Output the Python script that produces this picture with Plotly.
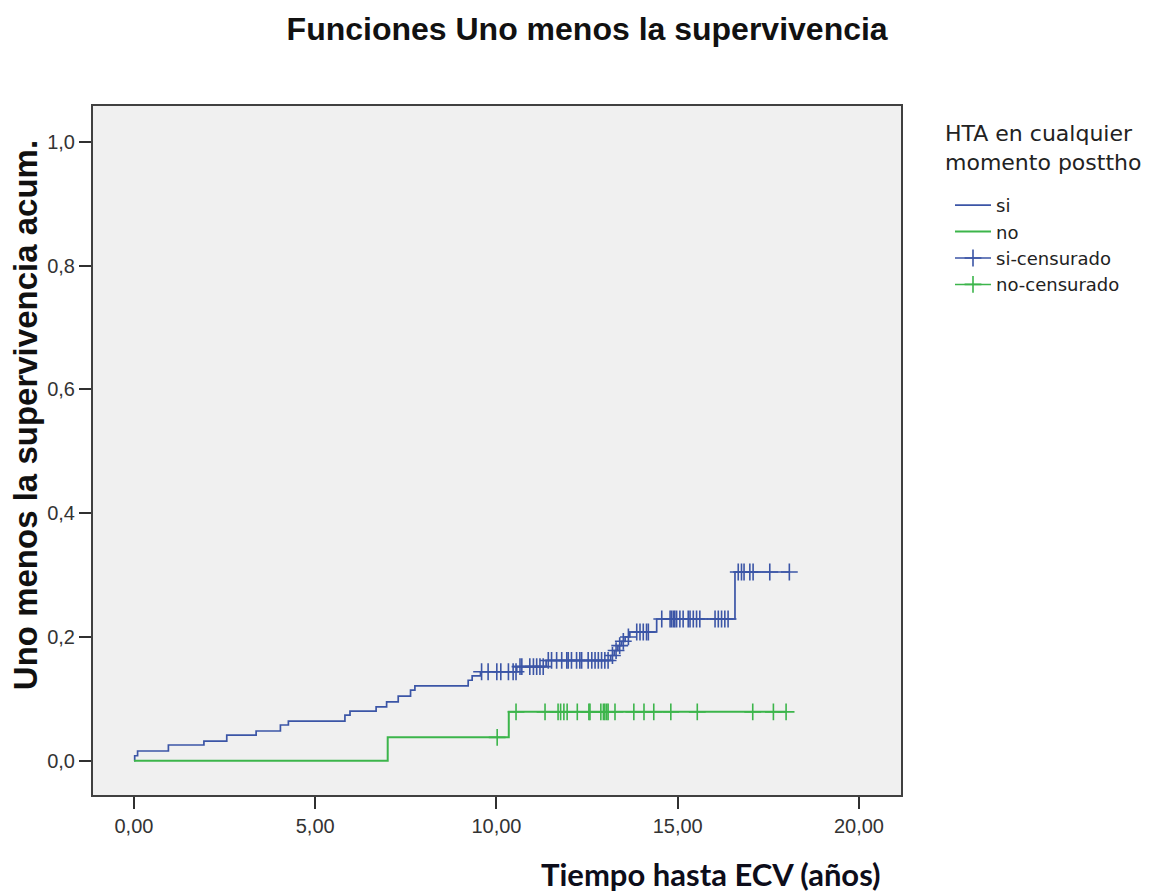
import numpy as np
import plotly.graph_objects as go

# ---- data ----
si_times = [0.0, 0.02, 0.10, 0.95, 1.93, 2.56, 3.37, 4.04, 4.26, 5.82, 5.96, 6.68, 6.97,
            7.29, 7.63, 7.75, 9.22, 9.33, 9.56, 10.56, 11.37, 13.15, 13.25, 13.35, 13.45,
            13.55, 13.68, 14.42, 16.58, 18.08]
si_values = [0.0, 0.008, 0.0157, 0.0254, 0.0318, 0.0415, 0.048, 0.0577, 0.064, 0.0738, 0.0803,
             0.087, 0.095, 0.1045, 0.114, 0.121, 0.130, 0.137, 0.1438, 0.152, 0.162, 0.170,
             0.178, 0.186, 0.193, 0.200, 0.208, 0.229, 0.305, 0.305]

no_times = [0.0, 7.0, 10.34, 18.0]
no_values = [0.0, 0.0378, 0.079, 0.079]

si_censored = [9.59, 9.77, 10.01, 10.12, 10.33, 10.46, 10.54,
               10.65, 10.70, 10.92, 11.02, 11.11, 11.20, 11.29,
               11.43, 11.52, 11.66, 11.80, 11.94, 11.98, 12.07, 12.21, 12.30, 12.35, 12.53,
               12.63, 12.72, 12.81, 12.90, 12.99, 13.08,
               13.20, 13.30, 13.40, 13.50,
               13.64, 13.87, 13.96, 14.05, 14.14, 14.19,
               14.56, 14.79, 14.83, 14.88, 14.92, 14.97, 15.06, 15.15, 15.29, 15.34, 15.43,
               15.52, 15.61, 16.03, 16.12, 16.21, 16.30, 16.39,
               16.67, 16.76, 16.83, 16.99, 17.08, 17.54, 18.08]
no_censored = [10.02, 10.54, 11.34, 11.70, 11.77, 11.86, 11.95, 12.23, 12.55, 12.58, 12.88,
               12.95, 12.99, 13.04, 13.08, 13.27, 13.79, 14.07, 14.34, 14.81, 15.54, 17.07,
               17.64, 17.99]

x_ticks = [0, 5, 10, 15, 20]
y_ticks = [0.0, 0.2, 0.4, 0.6, 0.8, 1.0]

BLUE = "#3b55a6"
GREEN = "#3cb54b"
FONT = "Liberation Sans"


def step_value(times, values, t):
    idx = np.searchsorted(np.array(times), np.array(t), side="right") - 1
    return list(np.array(values)[idx])


def with_gaps(xs, ys):
    # separate each censor mark so no connecting line is drawn between them
    gx, gy = [], []
    for a, b in zip(xs, ys):
        gx += [a, None]
        gy += [b, None]
    return gx, gy


fig = go.Figure()
fig.add_trace(go.Scatter(x=si_times, y=si_values, mode="lines", line_shape="hv",
                         line=dict(color=BLUE, width=1.7), name="si"))
fig.add_trace(go.Scatter(x=no_times, y=no_values, mode="lines", line_shape="hv",
                         line=dict(color=GREEN, width=2), name="no"))
cx, cy = with_gaps(si_censored, step_value(si_times, si_values, si_censored))
fig.add_trace(go.Scatter(x=cx, y=cy, mode="lines+markers", connectgaps=False,
                         name="si-censurado", line=dict(color=BLUE, width=1.5),
                         marker=dict(symbol="cross-thin", size=12,
                                     line=dict(color=BLUE, width=1.6))))
cx, cy = with_gaps(no_censored, step_value(no_times, no_values, no_censored))
fig.add_trace(go.Scatter(x=cx, y=cy, mode="lines+markers", connectgaps=False,
                         name="no-censurado", line=dict(color=GREEN, width=1.5),
                         marker=dict(symbol="cross-thin", size=12,
                                     line=dict(color=GREEN, width=1.6))))

axis_common = dict(showgrid=False, zeroline=False, showline=True, mirror=True,
                   linecolor="#404040", linewidth=2, ticks="outside", ticklen=12,
                   tickwidth=2, tickcolor="#303030",
                   tickfont=dict(family=FONT, size=20, color="#333333"))

fig.update_layout(
    width=1149, height=893,
    margin=dict(l=93, r=248, t=106, b=98, autoexpand=False),
    paper_bgcolor="white", plot_bgcolor="#f0f0f0",
    separators=",.",
    title=dict(text="<b>Funciones Uno menos la supervivencia</b>", xref="container",
               x=0.511, xanchor="center", yref="container", y=0.968, yanchor="middle",
               font=dict(family=FONT, size=32, color="#111111")),
    xaxis=dict(range=[-1.13, 21.16], tickvals=x_ticks, tickformat=".2f", **axis_common),
    yaxis=dict(range=[-0.0554, 1.058], tickvals=y_ticks, tickformat=".1f", **axis_common),
    legend=dict(x=(950 - 93) / 808, xanchor="left", y=(795 - 187) / 689, yanchor="top",
                bgcolor="rgba(0,0,0,0)", itemwidth=36,
                font=dict(family="DejaVu Sans", size=18, color="#222222")),
    annotations=[
        dict(text="HTA en cualquier<br>momento posttho", align="left",
             xref="paper", x=(943 - 93) / 808, xanchor="left",
             yref="paper", y=(795 - 119) / 689, yanchor="top", showarrow=False,
             font=dict(family="DejaVu Sans", size=22, color="#222222")),
        dict(text="<b>Uno menos la supervivencia acum.</b>", textangle=-90,
             xref="paper", x=-0.084, xanchor="center", yref="paper", y=0.5515,
             yanchor="middle", showarrow=False,
             font=dict(family=FONT, size=33, color="#111111")),
        dict(text="<b>Tiempo hasta ECV (años)</b>", xref="paper", x=0.978, xanchor="right",
             yref="paper", y=-(874 - 795) / 689, yanchor="middle", showarrow=False,
             font=dict(family="Lato", size=31, color="#0d0d1a")),
    ],
)

fig.write_html("out.html")
